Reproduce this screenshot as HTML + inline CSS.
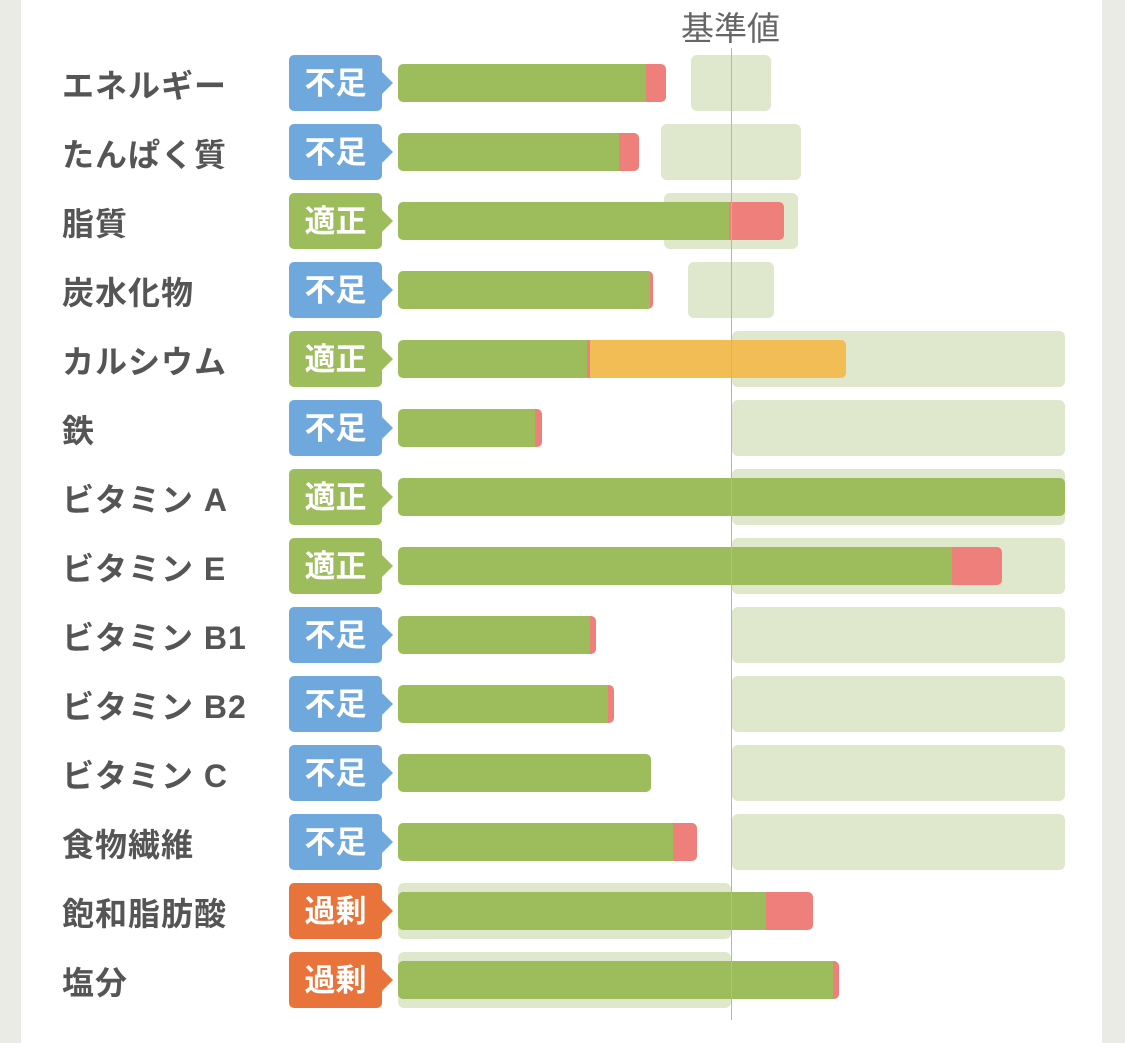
<!DOCTYPE html>
<html><head><meta charset="utf-8"><style>
body{margin:0;width:1125px;height:1043px;background:#ebebe6;position:relative;overflow:hidden;font-family:"Liberation Sans","Noto Sans CJK JP",sans-serif}
.card{position:absolute;left:21px;top:0;width:1081px;height:1043px;background:#fff}
.a{position:absolute}
.lab{position:absolute;left:62px;height:56px;line-height:62px;font-size:32px;letter-spacing:1px;font-weight:bold;color:#555}
.bd{position:absolute;left:289px;width:93px;height:56px;border-radius:5px;color:#fff;font-size:31px;font-weight:bold;line-height:58px;text-align:center;box-sizing:border-box;padding-left:0}
.bd:after{content:"";position:absolute;right:-11px;top:17px;border-left:11px solid var(--c);border-top:11px solid transparent;border-bottom:11px solid transparent}
.b{background:#6fa8dc;--c:#6fa8dc}.g{background:#9dbd5c;--c:#9dbd5c}.o{background:#e8743b;--c:#e8743b}
.rg{position:absolute;height:56px;background:#dfe8cc;border-radius:6px}
.bar{position:absolute;left:398px;height:38px;border-radius:5px;overflow:hidden;display:flex}
.bar i{display:block;height:100%}
.gr{background:#9dbd5c}.rd{background:#ee7f7a}.or{background:#f2bd55}
</style></head><body>
<div class="card"></div>
<div class="a" style="left:681px;top:2px;font-size:33px;color:#666">基準値</div>

<div class="rg" style="left:691px;top:55px;width:80px"></div>
<div class="rg" style="left:661px;top:124px;width:140px"></div>
<div class="rg" style="left:664px;top:193px;width:134px"></div>
<div class="rg" style="left:688px;top:262px;width:86px"></div>
<div class="rg" style="left:732px;top:331px;width:333px"></div>
<div class="rg" style="left:732px;top:400px;width:333px"></div>
<div class="rg" style="left:732px;top:469px;width:333px"></div>
<div class="rg" style="left:732px;top:538px;width:333px"></div>
<div class="rg" style="left:732px;top:607px;width:333px"></div>
<div class="rg" style="left:732px;top:676px;width:333px"></div>
<div class="rg" style="left:732px;top:745px;width:333px"></div>
<div class="rg" style="left:732px;top:814px;width:333px"></div>
<div class="rg" style="left:398px;top:883px;width:333px"></div>
<div class="rg" style="left:398px;top:952px;width:333px"></div>

<div class="lab" style="top:55px">エネルギー</div>
<div class="lab" style="top:124px">たんぱく質</div>
<div class="lab" style="top:193px">脂質</div>
<div class="lab" style="top:262px">炭水化物</div>
<div class="lab" style="top:331px">カルシウム</div>
<div class="lab" style="top:400px">鉄</div>
<div class="lab" style="top:469px">ビタミン A</div>
<div class="lab" style="top:538px">ビタミン E</div>
<div class="lab" style="top:607px">ビタミン B1</div>
<div class="lab" style="top:676px">ビタミン B2</div>
<div class="lab" style="top:745px">ビタミン C</div>
<div class="lab" style="top:814px">食物繊維</div>
<div class="lab" style="top:883px">飽和脂肪酸</div>
<div class="lab" style="top:952px">塩分</div>

<div class="bd b" style="top:55px">不足</div>
<div class="bd b" style="top:124px">不足</div>
<div class="bd g" style="top:193px">適正</div>
<div class="bd b" style="top:262px">不足</div>
<div class="bd g" style="top:331px">適正</div>
<div class="bd b" style="top:400px">不足</div>
<div class="bd g" style="top:469px">適正</div>
<div class="bd g" style="top:538px">適正</div>
<div class="bd b" style="top:607px">不足</div>
<div class="bd b" style="top:676px">不足</div>
<div class="bd b" style="top:745px">不足</div>
<div class="bd b" style="top:814px">不足</div>
<div class="bd o" style="top:883px">過剰</div>
<div class="bd o" style="top:952px">過剰</div>

<div class="bar" style="top:64px"><i class="gr" style="width:248px"></i><i class="rd" style="width:20px"></i></div>
<div class="bar" style="top:133px"><i class="gr" style="width:221px"></i><i class="rd" style="width:20px"></i></div>
<div class="bar" style="top:202px"><i class="gr" style="width:331px"></i><i class="rd" style="width:55px"></i></div>
<div class="bar" style="top:271px"><i class="gr" style="width:252px"></i><i class="rd" style="width:3px"></i></div>
<div class="bar" style="top:340px"><i class="gr" style="width:189px"></i><i class="rd" style="width:3px"></i><i class="or" style="width:256px"></i></div>
<div class="bar" style="top:409px"><i class="gr" style="width:137px"></i><i class="rd" style="width:7px"></i></div>
<div class="bar" style="top:478px"><i class="gr" style="width:667px"></i></div>
<div class="bar" style="top:547px"><i class="gr" style="width:554px"></i><i class="rd" style="width:50px"></i></div>
<div class="bar" style="top:616px"><i class="gr" style="width:192px"></i><i class="rd" style="width:6px"></i></div>
<div class="bar" style="top:685px"><i class="gr" style="width:210px"></i><i class="rd" style="width:6px"></i></div>
<div class="bar" style="top:754px"><i class="gr" style="width:253px"></i></div>
<div class="bar" style="top:823px"><i class="gr" style="width:275px"></i><i class="rd" style="width:24px"></i></div>
<div class="bar" style="top:892px"><i class="gr" style="width:368px"></i><i class="rd" style="width:47px"></i></div>
<div class="bar" style="top:961px"><i class="gr" style="width:435px"></i><i class="rd" style="width:6px"></i></div>

<div class="a" style="left:731px;top:48px;width:1px;height:972px;background:#b5b5b5"></div>
</body></html>
